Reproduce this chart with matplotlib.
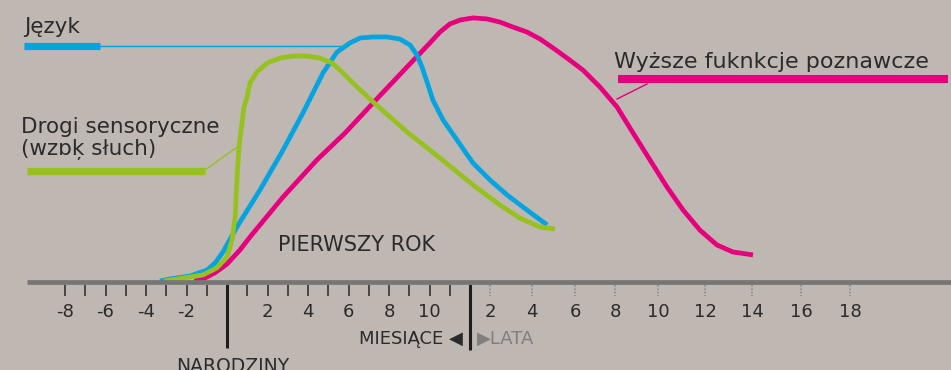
import numpy as np
import matplotlib.pyplot as plt
import matplotlib.transforms as mtransforms

# kolory
BG = '#bfb8b2'
BLUE = '#05a3e0'
GREEN = '#96c11f'
PINK = '#e6007e'
TXT = '#2b2b2b'

# dane: x = wiek w miesiacach (ujemne = przed narodzinami), y = poziom rozwoju (%)
green_x = [-3.1, -2.2, -1.2, -0.5, 0.0, 0.25, 0.4, 0.49, 0.59, 0.74, 0.84, 0.99, 1.14,
           1.48, 1.98, 2.62, 3.26, 3.95, 4.59, 5.19, 5.73, 6.07, 7.21, 8.89, 10.52,
           13.8, 29.7, 41.1, 52.5, 60.8]
green_y = [0, 1.1, 2.3, 5.0, 9.2, 15.7, 24.5, 38.7, 51.3, 60.5, 66.7, 70.5, 75.9,
           80.1, 83.5, 85.4, 86.2, 86.2, 85.4, 83.5, 79.7, 77.0, 68.6, 57.1, 47.1,
           36.8, 29.1, 24.1, 20.7, 19.9]

blue_x = [-3.31, -2.81, -1.83, -0.99, -0.59, -0.2, 0.49, 1.63, 2.77, 3.75, 4.74, 5.43,
          6.07, 6.57, 7.21, 7.9, 8.54, 9.04, 9.38, 9.63, 9.88, 10.17, 10.67, 11.36,
          13.8, 24.0, 33.7, 45.1, 56.4]
blue_y = [0, 0.8, 1.9, 4.2, 6.9, 11.1, 20.7, 34.9, 50.2, 64.4, 79.7, 87.7,
          91.2, 93.1, 93.5, 93.5, 92.7, 90.4, 86.6, 82.0, 76.2, 69.3, 61.7, 54.0,
          45.2, 38.7, 33.0, 27.2, 21.5]

pink_x = [-1.6, -1.1, -0.6, 0.0, 0.64, 1.14, 2.77, 4.44, 5.83, 7.21, 8.89, 10.02, 10.52,
          11.01, 11.51, 13.8, 22.2, 29.7, 37.1, 45.1, 52.5, 59.7, 67.6, 76.8, 87.0,
          97.1, 106.1, 115.5, 124.6, 132.8, 141.4, 150.1, 158.3, 168.5]
pink_y = [0, 1.1, 3.1, 6.5, 11.9, 16.9, 32.2, 46.4, 56.7, 68.2, 82.0, 91.2, 95.4,
          98.5, 100.0, 100.8, 100.4, 99.2, 97.3, 95.4, 92.7, 89.3, 85.4, 80.8, 74.3,
          66.7, 56.7, 46.4, 36.0, 27.2, 19.5, 13.8, 11.1, 10.0]

month_ticks = [m for m in range(-8, 12) if m != 0]
month_labels = [-8, -6, -4, -2, 2, 4, 6, 8, 10]
year_labels = [2, 4, 6, 8, 10, 12, 14, 16, 18]

# skala osi: miesiace -> kolumna pikseli (miesiace rowno, lata scisniete)
scale_m = [-12, 0, 12, 24, 48, 72, 96, 120, 144, 168, 192, 216, 270]
scale_px = [-16, 227, 470, 490, 532, 575, 615, 658, 705, 752, 801, 850, 960]


def fwd(x):
    return np.interp(x, scale_m, scale_px)


def inv(p):
    return np.interp(p, scale_px, scale_m)


W, H = 951, 370
fig = plt.figure(figsize=(W / 100, H / 100), dpi=100)
fig.patch.set_facecolor(BG)

ax = fig.add_axes([0, 0, 1, 1])
ax.set_facecolor(BG)
ax.set_xscale('function', functions=(fwd, inv))
ax.set_xlim(inv(0), inv(W))
ax.set_ylim(-(H - 281) / 2.61, 281 / 2.61)
ax.axis('off')

# warstwa w pikselach na podpisy
ov = fig.add_axes([0, 0, 1, 1], facecolor='none')
ov.set_xlim(0, W)
ov.set_ylim(H, 0)
ov.axis('off')

tb = mtransforms.blended_transform_factory(ax.transData, ov.transData)

# krzywe
ax.plot(pink_x, pink_y, color=PINK, lw=3.4, solid_capstyle='butt',
        solid_joinstyle='round', zorder=3)
ax.plot(blue_x, blue_y, color=BLUE, lw=3.4, solid_capstyle='butt',
        solid_joinstyle='round', zorder=4)
ax.plot(green_x, green_y, color=GREEN, lw=3.4, solid_capstyle='butt',
        solid_joinstyle='round', zorder=5)

# os czasu
ov.plot([27, W], [281.5, 281.5], color='#767676', lw=3.4, solid_capstyle='butt', zorder=6)
ax.vlines(month_ticks, 285, 296, colors='#333333', lw=1.2, transform=tb)
ax.vlines([y * 12 for y in year_labels], 285, 296, colors='#8a8a8a', lw=1.2,
          linestyles=(0, (1, 1)), transform=tb)
ax.vlines([0, 12], 284, [348, 350], colors='#1e1e1e', lw=2.2, transform=tb)

for m in month_labels:
    ax.text(m, 317, str(m), transform=tb, ha='center', va='baseline',
            fontsize=13, color=TXT)
for y in year_labels:
    ax.text(y * 12, 317, str(y), transform=tb, ha='center', va='baseline',
            fontsize=13, color=TXT)

ov.text(463, 344, 'MIESIĄCE \u25C0', ha='right', va='baseline', fontsize=13, color=TXT)
ov.text(477, 344, '\u25B6LATA', ha='left', va='baseline', fontsize=13, color='#7f7f7f')
ov.text(233, 357, 'NARODZINY', ha='center', va='top', fontsize=13.5, color=TXT)
ov.text(278, 251, 'PIERWSZY ROK', ha='left', va='baseline', fontsize=15, color=TXT)

# legenda z odnosnikami
ov.text(24, 33, 'Język', ha='left', va='baseline', fontsize=15.5, color=TXT)
ov.plot([24, 100], [45.5, 45.5], color=BLUE, lw=5.2, solid_capstyle='butt')
ov.plot([100, 345], [45.5, 45.5], color=BLUE, lw=1.0)

ov.text(21, 133, 'Drogi sensoryczne', ha='left', va='baseline', fontsize=15.5, color=TXT)
ov.text(21, 155, '(wzɒķ słuch)', ha='left', va='baseline', fontsize=15.5, color=TXT)
ov.plot([27, 205], [170.5, 170.5], color=GREEN, lw=5.3, solid_capstyle='butt')
ov.plot([205, 240], [170, 145], color=GREEN, lw=1.0)

ov.text(614, 68, 'Wyższe fuknkcje poznawcze', ha='left', va='baseline',
        fontsize=16, color=TXT)
ov.plot([618, 948], [79, 79], color=PINK, lw=5.8, solid_capstyle='butt')
ov.plot([647, 617], [84, 99], color=PINK, lw=1.0)

fig.savefig('out.png', dpi=100, facecolor=BG)
